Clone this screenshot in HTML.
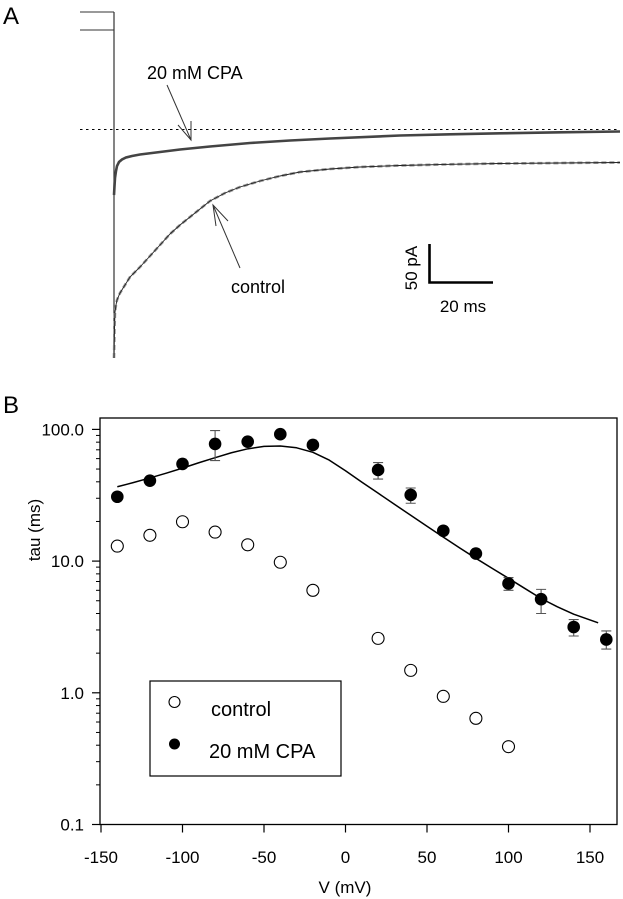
<!DOCTYPE html>
<html><head><meta charset="utf-8"><style>
html,body{margin:0;padding:0;background:#fff;}
svg{display:block;font-family:"Liberation Sans",Arial,sans-serif;}
</style></head><body>
<svg id="fig" width="623" height="899" viewBox="0 0 623 899">
<text x="3" y="24" font-size="24">A</text>
<text x="3" y="413" font-size="24">B</text>
<g id="panelA">
  <line x1="80" y1="12" x2="114" y2="12" stroke="#333" stroke-width="1"/>
  <line x1="80" y1="30" x2="114" y2="30" stroke="#333" stroke-width="1"/>
  <line x1="114" y1="12" x2="114" y2="358" stroke="#333" stroke-width="1.2"/>
  <line x1="80" y1="129.5" x2="620" y2="129.5" stroke="#000" stroke-width="1" stroke-dasharray="2.5 3.5"/>
  <polyline id="ctrlTraceG" fill="none" stroke="#999" stroke-width="2.6" stroke-dasharray="5 3"/>
  <polyline id="ctrlTraceK" fill="none" stroke="#222" stroke-width="0.9"/>
  <polyline id="cpaTrace" fill="none" stroke="#444" stroke-width="2.6"/>
  <text x="147" y="79" font-size="18">20 mM CPA</text>
  <g stroke="#333" stroke-width="1" fill="none">
    <line x1="167" y1="85" x2="191" y2="140"/><polyline points="178,125 191,140 191,121"/>
  </g>
  <text x="231" y="293" font-size="18">control</text>
  <g stroke="#333" stroke-width="1" fill="none">
    <line x1="240" y1="268" x2="213" y2="205"/><polyline points="216,226 213,205 228,221"/>
  </g>
  <polyline points="429.5,244 429.5,282.5 493,282.5" fill="none" stroke="#000" stroke-width="2.6"/>
  <text transform="translate(417,268) rotate(-90)" text-anchor="middle" font-size="17">50 pA</text>
  <text x="463" y="312" text-anchor="middle" font-size="17">20 ms</text>
</g>
<g id="panelB"></g>
</svg>
<script>
// Panel A traces (pixel space of the trace panel)
const ctrlTraceX=[114,114.5,115,116,117,120,125,130,140,150,160,170,180,190,200,210,225,240,260,280,300,330,360,400,450,500,560,620];
const ctrlTraceY=[358,330,312,305,300,293,285,277,267,256,245,234,225,217,209,201,193,187,181,176,172,169,167,165.5,164.3,163.5,163,162.5];
const cpaTraceX=[114,114.5,115,116,117,119,122,126,132,140,160,180,210,250,290,330,400,450,500,560,620];
const cpaTraceY=[195,186,178,171,166,162,159.5,157.5,156,154.5,152,149.5,146.5,143,140.5,138.5,135.5,134.3,133.3,132.3,131.5];
function pts(xs,ys){return xs.map((x,i)=>x+','+ys[i]).join(' ');}
document.getElementById('ctrlTraceG').setAttribute('points',pts(ctrlTraceX,ctrlTraceY));
document.getElementById('ctrlTraceK').setAttribute('points',pts(ctrlTraceX,ctrlTraceY));
document.getElementById('cpaTrace').setAttribute('points',pts(cpaTraceX,cpaTraceY));

// Panel B data
const ctrlV=[-140,-120,-100,-80,-60,-40,-20,20,40,60,80,100];
const ctrlTau=[13.0,15.7,19.9,16.6,13.3,9.8,6.0,2.59,1.48,0.94,0.64,0.39];
const cpaV=[-140,-120,-100,-80,-60,-40,-20,20,40,60,80,100,120,140,160];
const cpaTau=[30.8,40.8,54.7,77.6,80.7,91.9,76.2,49.2,31.8,17.0,11.4,6.76,5.14,3.16,2.54];
const cpaErrHi=[0,0,0,98,0,0,0,56.0,35.9,0,0,7.5,6.1,3.6,2.95];
const cpaErrLo=[0,0,0,58,0,0,0,42.0,27.5,0,0,6.0,4.0,2.7,2.15];
const fitV=[-140,-130,-120,-110,-100,-90,-80,-70,-60,-50,-40,-30,-20,-10,0,10,20,30,40,50,60,70,80,90,100,110,120,130,140,155];
const fitTau=[36.7,39.5,42.8,46.5,50.8,55.8,61,66.5,71.2,74.3,74.8,72.5,67,58.5,48.5,39.8,32.8,27,22.3,18.4,15.2,12.6,10.5,8.8,7.4,6.2,5.2,4.5,3.95,3.4];
const xTicks=[-150,-100,-50,0,50,100,150];
const yTicks=[0.1,1,10,100];
const yTickLabels=["0.1","1.0","10.0","100.0"];

const NS='http://www.w3.org/2000/svg';
const g=document.getElementById('panelB');
const L=100,R=617,T=418,B=824.5;
function xs(v){return 345.5+(v)*(590-101)/300;}
function ys(t){return 824.5-(Math.log10(t)+1)*131.7;}
function mk(tag,attrs,parent){const e=document.createElementNS(NS,tag);for(const k in attrs)e.setAttribute(k,attrs[k]);(parent||g).appendChild(e);return e;}

let box=mk('rect',{x:L,y:T,width:R-L,height:B-T,fill:'none',stroke:'#000','stroke-width':1.3});



xTicks.forEach(v=>{
  const x=xs(v);
  let t=mk('line',{x1:x,y1:B,x2:x,y2:B+8,stroke:'#000','stroke-width':1.2});
  
  
  let l=mk('text',{x:x,y:863,'text-anchor':'middle','font-size':17});
  l.textContent=v;
  
  
});
yTicks.forEach((v,i)=>{
  const y=ys(v);
  let t=mk('line',{x1:L-8,y1:y,x2:L,y2:y,stroke:'#000','stroke-width':1.2});
  
  
  let l=mk('text',{x:84,y:y+6,'text-anchor':'end','font-size':17});
  l.textContent=yTickLabels[i];
  
  
  if(i<yTicks.length-1){
    for(let m=2;m<=9;m++){
      const ym=ys(v*m);
      let mt=mk('line',{x1:L-4,y1:ym,x2:L,y2:ym,stroke:'#000','stroke-width':1});
      
      
    }
  }
});
let xt=mk('text',{x:345,y:893,'text-anchor':'middle','font-size':17});
xt.textContent='V (mV)';


let yt=mk('text',{transform:'translate(40,530) rotate(-90)','text-anchor':'middle','font-size':17});
yt.textContent='tau (ms)';



let fit=mk('polyline',{points:fitV.map((v,i)=>xs(v)+','+ys(fitTau[i])).join(' '),fill:'none',stroke:'#000','stroke-width':1.5,'stroke-linejoin':'round'});



cpaV.forEach((v,i)=>{
  if(cpaErrHi[i]>0){
    const x=xs(v),y1=ys(cpaErrHi[i]),y2=ys(cpaErrLo[i]);
    let e=mk('path',{d:`M${x},${y1}V${y2}M${x-5},${y1}H${x+5}M${x-5},${y2}H${x+5}`,stroke:'#555','stroke-width':1.1,fill:'none'});
    
    
  }
  let c=mk('circle',{cx:xs(v),cy:ys(cpaTau[i]),r:6.3,fill:'#000'});
  
  
});
ctrlV.forEach((v,i)=>{
  let c=mk('circle',{cx:xs(v),cy:ys(ctrlTau[i]),r:6,fill:'#fff',stroke:'#000','stroke-width':1.1});
  
  
});

let lg=mk('g',{});


mk('rect',{x:150,y:681,width:191,height:95,fill:'#fff',stroke:'#000','stroke-width':1.2},lg);
let lc=mk('circle',{cx:174.5,cy:702,r:5.5,fill:'#fff',stroke:'#000','stroke-width':1.1},lg);


let lt1=mk('text',{x:211,y:716,'font-size':20},lg);
lt1.textContent='control';


let lf=mk('circle',{cx:174.5,cy:744,r:5.5,fill:'#000'},lg);


let lt2=mk('text',{x:209,y:758,'font-size':20},lg);
lt2.textContent='20 mM CPA';


</script>
</body></html>
